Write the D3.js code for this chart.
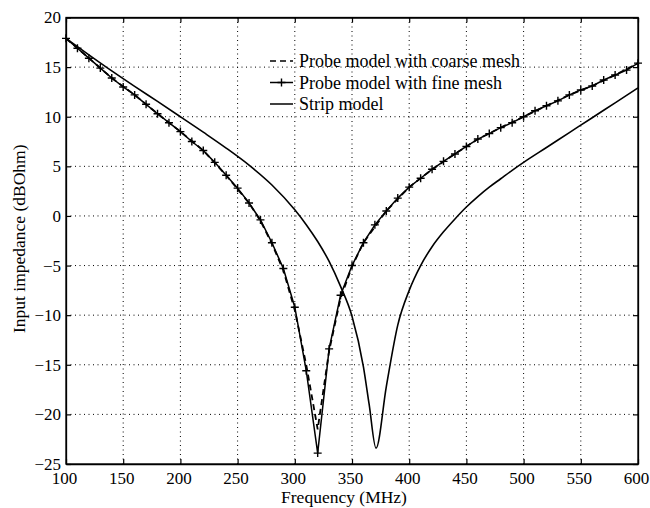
<!DOCTYPE html>
<html>
<head>
<meta charset="utf-8">
<script src="https://cdn.jsdelivr.net/npm/d3@7"></script>
<style>
  body { margin: 0; background: #fff; }
  text { font-family: "Liberation Serif", "Times New Roman", serif; fill: #000; }
</style>
</head>
<body>
<div class="vis-chart"></div>
<script>
// probe model, fine mesh (markers every 10 MHz)
const fineFreq = [100, 110, 120, 130, 140, 150, 160, 170, 180, 190, 200, 210, 220, 230, 240, 250,
  260, 270, 280, 290, 300, 310, 320, 330, 340, 350, 360, 370, 380, 390, 400, 410, 420, 430,
  440, 450, 460, 470, 480, 490, 500, 510, 520, 530, 540, 550, 560, 570, 580, 590, 600];
const fineVal = [17.9, 16.9, 15.9, 14.9, 13.9, 13.0, 12.2, 11.25, 10.3, 9.4, 8.5, 7.5, 6.6, 5.4, 4.1, 2.8,
  1.3, -0.4, -2.7, -5.3, -9.2, -15.6, -23.9, -13.4, -8.0, -5.0, -2.7, -0.9, 0.5, 1.8, 2.9, 3.8, 4.7, 5.5,
  6.25, 7.0, 7.75, 8.3, 8.9, 9.4, 10.0, 10.6, 11.1, 11.6, 12.2, 12.7, 13.1, 13.7, 14.2, 14.7, 15.4];

// probe model, coarse mesh
const coarseFreq = [100, 120, 140, 160, 180, 200, 220, 240, 260, 270, 280, 290, 300, 310, 320,
  330, 340, 350, 360, 380, 400, 420, 440, 460, 480, 500, 520, 540, 560, 580, 600];
const coarseVal = [17.9, 15.9, 13.9, 12.2, 10.3, 8.5, 6.6, 4.1, 1.3, -0.5, -2.8, -5.5, -9.5, -15.0, -21.5,
  -13.6, -8.3, -5.1, -2.7, 0.5, 2.9, 4.7, 6.25, 7.75, 8.9, 10.0, 11.1, 12.2, 13.1, 14.2, 15.4];

// strip model
const stripFreq = [100, 120, 140, 160, 180, 200, 220, 240, 260, 280, 300, 310, 320, 330,
  340, 350, 360, 365, 371, 380, 390, 400, 410, 420, 430, 440, 450, 460, 470, 480, 490, 500,
  520, 540, 560, 580, 600];
const stripVal = [17.9, 16.24, 14.62, 13.06, 11.54, 10.0, 8.44, 6.84, 5.12, 3.12, 0.62, -0.88, -2.58, -4.58,
  -7.1, -10.1, -15.2, -19.0, -23.4, -17.2, -11.0, -7.5, -5.0, -3.1, -1.6, -0.3, 0.9, 1.95, 2.9, 3.75, 4.6, 5.4,
  6.9, 8.4, 9.9, 11.4, 12.9];

const xTicks = [100, 150, 200, 250, 300, 350, 400, 450, 500, 550, 600];
const yTicks = [-25, -20, -15, -10, -5, 0, 5, 10, 15, 20];

const legendLabels = ["Probe model with coarse mesh", "Probe model with fine mesh", "Strip model"];

let margin = { top: 17.5, right: 12, bottom: 44, left: 66 };
const width = 650 - margin.left - margin.right;
const height = 508 - margin.top - margin.bottom;

let svg = d3
  .select(".vis-chart")
  .append("svg")
  .attr("width", 650)
  .attr("height", 508)
  .append("g")
  .attr("transform", "translate(" + margin.left + "," + margin.top + ")");

let x = d3.scaleLinear().domain([100, 600]).range([0, width]);
let y = d3.scaleLinear().domain([-25, 20]).range([height, 0]);

// dotted grid
svg.append("g")
  .selectAll("line")
  .data(xTicks.slice(1, -1))
  .enter()
  .append("line")
  .attr("x1", d => x(d)).attr("x2", d => x(d))
  .attr("y1", 0).attr("y2", height)
  .attr("stroke", "#000")
  .attr("stroke-width", 1)
  .attr("stroke-dasharray", "1,3.5");

svg.append("g")
  .selectAll("line")
  .data(yTicks.slice(1, -1))
  .enter()
  .append("line")
  .attr("x1", 0).attr("x2", width)
  .attr("y1", d => y(d)).attr("y2", d => y(d))
  .attr("stroke", "#000")
  .attr("stroke-width", 1)
  .attr("stroke-dasharray", "1,3.5");

// axes, ticks pointing inward on all four sides
let xAxis = svg.append("g")
  .attr("transform", "translate(0," + height + ")")
  .call(d3.axisBottom(x).tickValues(xTicks).tickSizeInner(-5).tickSizeOuter(0).tickPadding(8));
let yAxis = svg.append("g")
  .call(d3.axisLeft(y).tickValues(yTicks).tickSizeInner(-5).tickSizeOuter(0).tickPadding(8));
svg.append("g")
  .call(d3.axisTop(x).tickValues(xTicks).tickSizeInner(-5).tickSizeOuter(0).tickFormat(""));
svg.append("g")
  .attr("transform", "translate(" + width + ",0)")
  .call(d3.axisRight(y).tickValues(yTicks).tickSizeInner(-5).tickSizeOuter(0).tickFormat(""));

svg.selectAll(".domain").attr("stroke", "#000").attr("stroke-width", 1.3);
svg.selectAll(".tick line").attr("stroke", "#000").attr("stroke-width", 1.2);
xAxis.selectAll("text").style("font-size", "17px").attr("dx", "-2");
yAxis.selectAll("text").style("font-size", "17px").attr("dx", "3");

svg.append("rect")
  .attr("width", width)
  .attr("height", height)
  .attr("fill", "none")
  .attr("stroke", "#000")
  .attr("stroke-width", 1.3);

// axis titles
svg.append("text")
  .attr("x", width / 2 - 8)
  .attr("y", height + 39)
  .style("text-anchor", "middle")
  .style("font-size", "17.5px")
  .text("Frequency (MHz)");

svg.append("text")
  .attr("transform", "rotate(-90)")
  .attr("x", -height / 2 + 2)
  .attr("y", -41)
  .style("text-anchor", "middle")
  .style("font-size", "17.5px")
  .text("Input impedance (dBOhm)");

// curves
let line = d3.line().x(d => x(d[0])).y(d => y(d[1]));

let stripData = d3.zip(stripFreq, stripVal);
let fineData = d3.zip(fineFreq, fineVal);
let coarseData = d3.zip(coarseFreq, coarseVal);

svg.append("path")
  .datum(stripData)
  .attr("fill", "none")
  .attr("stroke", "#000")
  .attr("stroke-width", 1.6)
  .attr("d", d3.line().curve(d3.curveMonotoneX).x(d => x(d[0])).y(d => y(d[1])));

svg.append("path")
  .datum(coarseData)
  .attr("fill", "none")
  .attr("stroke", "#000")
  .attr("stroke-width", 1.8)
  .attr("stroke-dasharray", "6,4")
  .attr("d", line);

svg.append("path")
  .datum(fineData)
  .attr("fill", "none")
  .attr("stroke", "#000")
  .attr("stroke-width", 1.5)
  .attr("d", line);

const plusPath = "M-4,0H4M0,-4V4";
svg.append("g")
  .selectAll("path")
  .data(fineData)
  .enter()
  .append("path")
  .attr("transform", d => "translate(" + x(d[0]) + "," + y(d[1]) + ")")
  .attr("d", plusPath)
  .attr("stroke", "#000")
  .attr("stroke-width", 1.4);

// legend
let legend = svg.append("g").attr("transform", "translate(" + (270 - margin.left) + "," + (61 - margin.top) + ")");
legendLabels.forEach(function (lab, i) {
  let row = legend.append("g").attr("transform", "translate(0," + i * 21.5 + ")");
  let sample = row.append("line")
    .attr("x1", 0).attr("x2", 23)
    .attr("y1", 0).attr("y2", 0)
    .attr("stroke", "#000")
    .attr("stroke-width", 1.5);
  if (i === 0) sample.attr("stroke-dasharray", "6,4");
  if (i === 1) row.append("path").attr("transform", "translate(11.5,0)").attr("d", plusPath)
    .attr("stroke", "#000").attr("stroke-width", 1.4);
  row.append("text")
    .attr("x", 29)
    .attr("y", 6)
    .style("font-size", "18px")
    .text(lab);
});
</script>
</body>
</html>
